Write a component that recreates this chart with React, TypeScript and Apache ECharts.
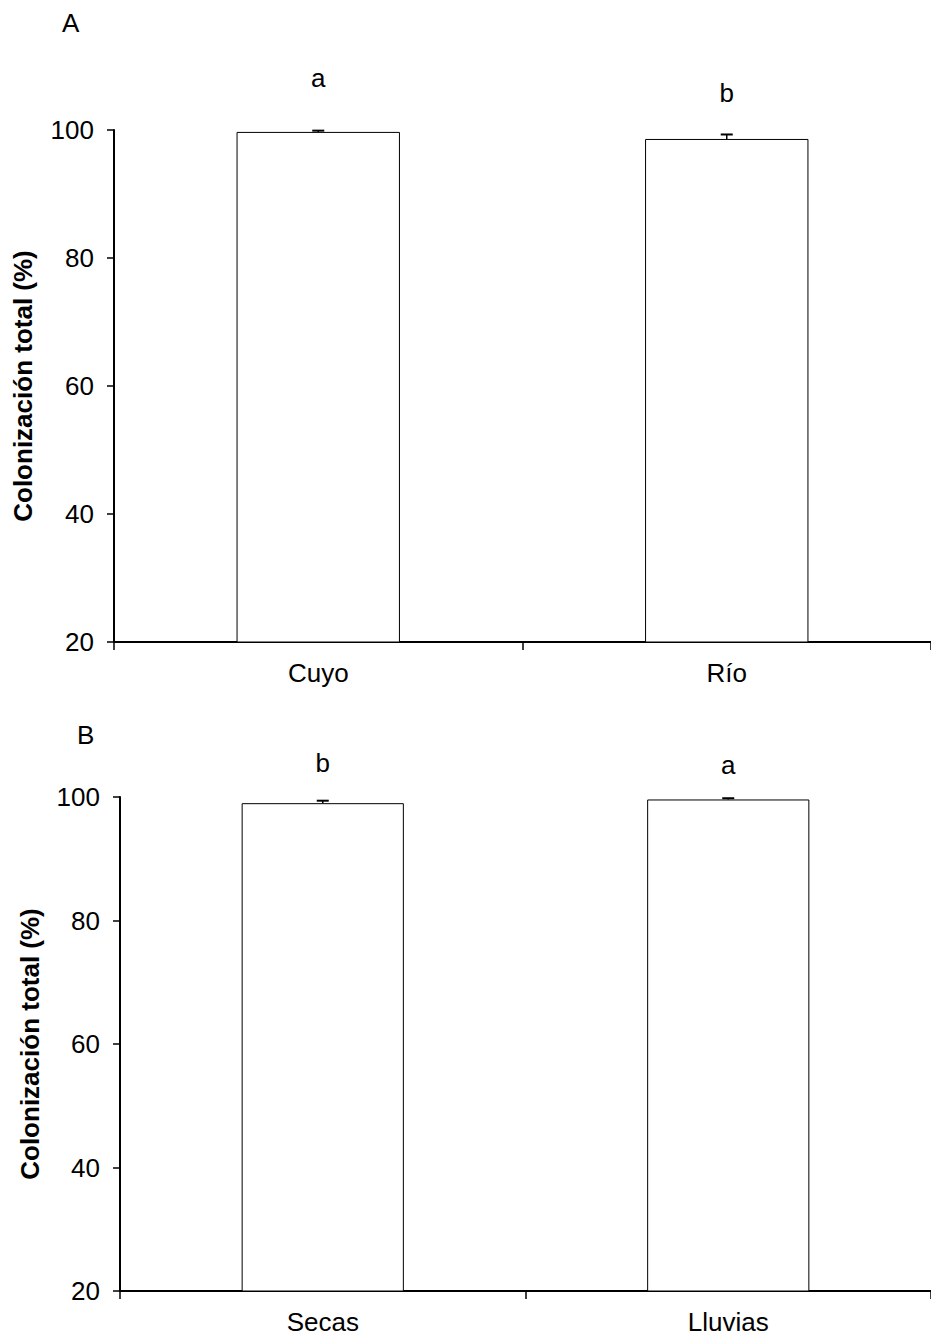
import React, { useEffect, useRef } from "react";
import * as echarts from "echarts";

const categoriesA = ["Cuyo", "Río"];
const valuesA = [99.7, 98.6];
const errorsA = [0.2, 0.7];
const lettersA = ["a", "b"];
const letterGapA = [41, 33];

const categoriesB = ["Secas", "Lluvias"];
const valuesB = [99.0, 99.6];
const errorsB = [0.4, 0.2];
const lettersB = ["b", "a"];
const letterGapB = [27, 21];

const yTicks = [20, 40, 60, 80, 100];
const yTitle = "Colonización total (%)";
const FONT = "Liberation Sans, Arial, sans-serif";

function errorSeries(values: number[], errors: number[], idx: number) {
  return {
    type: "custom",
    xAxisIndex: idx,
    yAxisIndex: idx,
    z: 5,
    data: values.map((v, i) => [i, v, v + errors[i]]),
    renderItem: (params: any, api: any) => {
      const x = api.value(0);
      const lo = api.coord([x, api.value(1)]);
      const hi = api.coord([x, api.value(2)]);
      const half = 6;
      return {
        type: "group",
        children: [
          { type: "line", shape: { x1: lo[0], y1: lo[1], x2: hi[0], y2: hi[1] }, style: { stroke: "#000", lineWidth: 1.5 } },
          { type: "line", shape: { x1: hi[0] - half, y1: hi[1], x2: hi[0] + half, y2: hi[1] }, style: { stroke: "#000", lineWidth: 2 } },
        ],
      };
    },
  };
}

function barSeries(values: number[], letters: string[], gaps: number[], idx: number) {
  return {
    type: "bar",
    xAxisIndex: idx,
    yAxisIndex: idx,
    barWidth: "40%",
    itemStyle: { color: "#fff", borderColor: "#000", borderWidth: 1 },
    data: values.map((v, i) => ({
      value: v,
      label: {
        show: true,
        position: "top",
        distance: gaps[i],
        formatter: letters[i],
        fontSize: 26,
        fontFamily: FONT,
        color: "#000",
      },
    })),
  };
}

export default function App() {
  const ref = useRef<HTMLDivElement>(null);
  useEffect(() => {
    if (!ref.current) return;
    const chart = echarts.init(ref.current, undefined, { renderer: "svg" });
    const xAxisCommon = (cats: string[], idx: number) => ({
      type: "category",
      gridIndex: idx,
      data: cats,
      axisLine: { lineStyle: { color: "#000", width: 2 } },
      axisTick: { show: true, length: 8, lineStyle: { color: "#000", width: 1.5 } },
      axisLabel: { color: "#000", fontSize: 26, fontFamily: FONT, margin: 18 },
    });
    const yAxisCommon = (idx: number) => ({
      type: "value",
      gridIndex: idx,
      min: yTicks[0],
      max: yTicks[yTicks.length - 1],
      interval: 20,
      splitLine: { show: false },
      axisLine: { show: true, lineStyle: { color: "#000", width: 2 } },
      axisTick: { show: true, length: 7, lineStyle: { color: "#000", width: 1.5 } },
      axisLabel: { color: "#000", fontSize: 26, fontFamily: FONT, margin: 20 },
    });
    chart.setOption({
      animation: false,
      backgroundColor: "#fff",
      grid: [
        { left: 114, top: 130, width: 822, height: 512 },
        { left: 120, top: 797, width: 823, height: 494 },
      ],
      xAxis: [xAxisCommon(categoriesA, 0), xAxisCommon(categoriesB, 1)],
      yAxis: [yAxisCommon(0), yAxisCommon(1)],
      series: [
        barSeries(valuesA, lettersA, letterGapA, 0),
        errorSeries(valuesA, errorsA, 0),
        barSeries(valuesB, lettersB, letterGapB, 1),
        errorSeries(valuesB, errorsB, 1),
      ],
      graphic: [
        { type: "text", left: 62, top: 10, style: { text: "A", fontSize: 26, fontFamily: FONT, fill: "#000" } },
        { type: "text", left: 77, top: 722, style: { text: "B", fontSize: 26, fontFamily: FONT, fill: "#000" } },
        {
          type: "text", x: 23, y: 386, rotation: Math.PI / 2,
          style: { text: yTitle, fontSize: 26, fontWeight: "bold", fontFamily: FONT, fill: "#000", align: "center", verticalAlign: "middle" },
        },
        {
          type: "text", x: 30, y: 1044, rotation: Math.PI / 2,
          style: { text: yTitle, fontSize: 26, fontWeight: "bold", fontFamily: FONT, fill: "#000", align: "center", verticalAlign: "middle" },
        },
      ],
    });
    return () => chart.dispose();
  }, []);
  return <div ref={ref} style={{ position: "absolute", left: 0, top: 0, width: 931, height: 1337 }} />;
}
